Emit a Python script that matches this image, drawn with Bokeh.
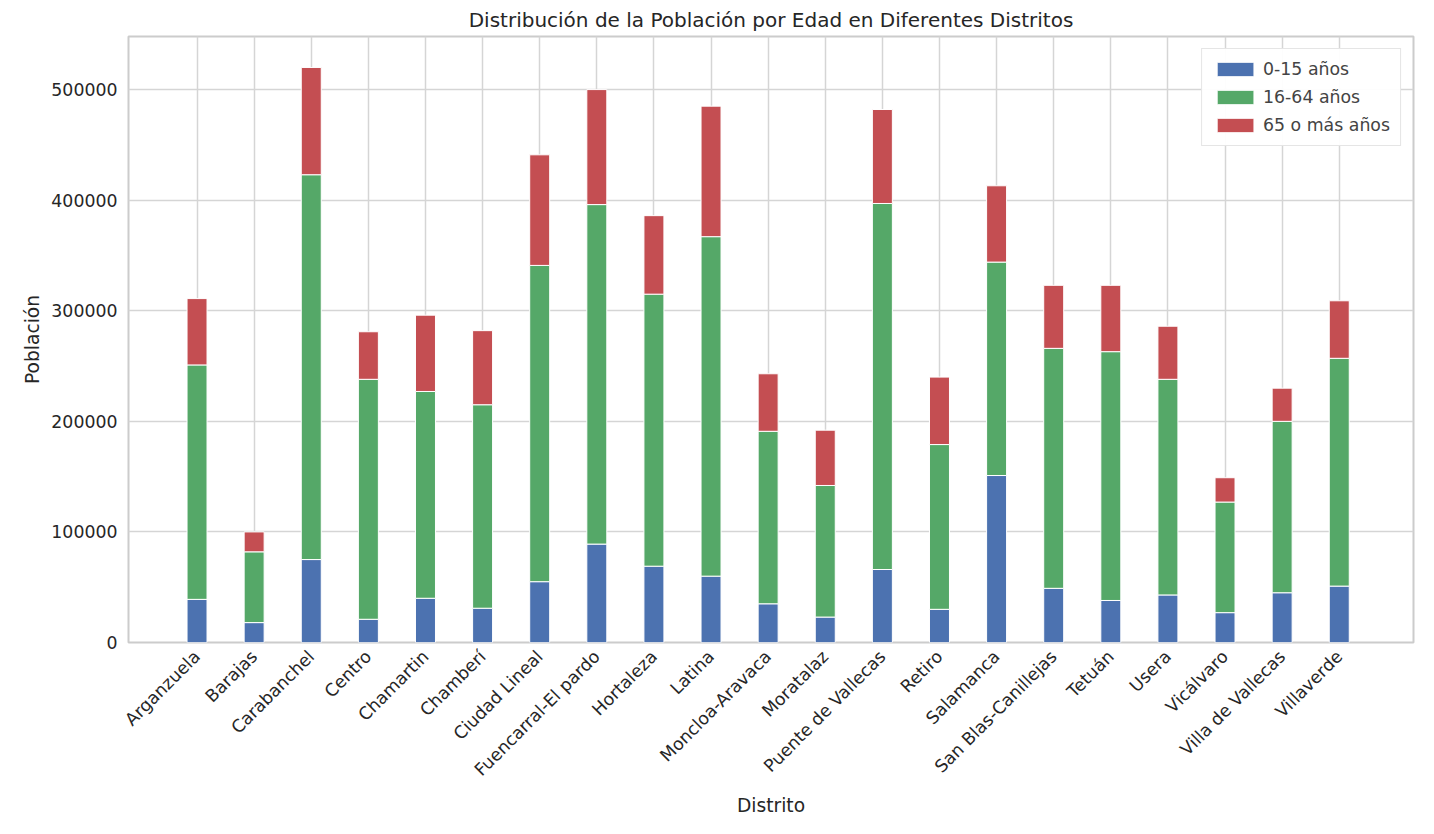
from bokeh.plotting import figure
from bokeh.models import ColumnDataSource, Legend, LegendItem, FixedTicker
from bokeh.embed import file_html
from bokeh.resources import INLINE
import math

distritos = ["Arganzuela", "Barajas", "Carabanchel", "Centro", "Chamartin", "Chamberí",
             "Ciudad Lineal", "Fuencarral-El pardo", "Hortaleza", "Latina", "Moncloa-Aravaca",
             "Moratalaz", "Puente de Vallecas", "Retiro", "Salamanca", "San Blas-Canillejas",
             "Tetuán", "Usera", "Vicálvaro", "Villa de Vallecas", "Villaverde"]
ninos = [39000, 18000, 75000, 21000, 40000, 31000, 55000, 89000, 69000, 60000, 35000,
         23000, 66000, 30000, 151000, 49000, 38000, 43000, 27000, 45000, 51000]
adultos = [212000, 64000, 348000, 217000, 187000, 184000, 286000, 307000, 246000, 307000, 156000,
           119000, 331000, 149000, 193000, 217000, 225000, 195000, 100000, 155000, 206000]
mayores = [60000, 18000, 97000, 43000, 69000, 67000, 100000, 104000, 71000, 118000, 52000,
           50000, 85000, 61000, 69000, 57000, 60000, 48000, 22000, 30000, 52000]

x = list(range(len(distritos)))
src = ColumnDataSource(dict(x=x, a=ninos, b=adultos, c=mayores))

p = figure(width=1418, height=818, output_backend="svg", toolbar_location=None,
           x_range=(-1.2, 21.3), y_range=(0, 548000), min_border_left=128,
           title="Distribución de la Población por Edad en Diferentes Distritos")
font = "DejaVu Sans"
p.title.align = "center"
p.title.text_font = font
p.title.text_font_size = "15pt"
p.title.text_font_style = "normal"
p.title.text_color = "#262626"

colores = ["#4C72B0", "#55A868", "#C44E52"]
r = p.vbar_stack(["a", "b", "c"], x="x", width=0.35, color=colores,
                 line_color="white", line_width=1, source=src)

p.xaxis.ticker = FixedTicker(ticks=x)
p.xaxis.major_label_overrides = {i: d for i, d in enumerate(distritos)}
p.xaxis.major_label_orientation = math.pi / 4
p.yaxis.ticker = FixedTicker(ticks=[0, 100000, 200000, 300000, 400000, 500000])
p.yaxis.formatter.use_scientific = False
for ax in (p.xaxis, p.yaxis):
    ax.major_label_text_font = font
    ax.major_label_text_font_size = "13pt"
    ax.major_label_text_color = "#262626"
    ax.axis_label_text_font = font
    ax.axis_label_text_font_size = "14pt"
    ax.axis_label_text_font_style = "normal"
    ax.axis_label_text_color = "#262626"
    ax.axis_line_color = None
    ax.major_tick_line_color = None
    ax.minor_tick_line_color = None
p.xaxis.axis_label = "Distrito"
p.yaxis.axis_label = "Población"

p.xgrid.grid_line_color = "#d5d5d5"
p.ygrid.grid_line_color = "#d5d5d5"
p.xgrid.grid_line_width = 1.5
p.ygrid.grid_line_width = 1.5
p.outline_line_color = "#cccccc"
p.outline_line_width = 2
p.outline_line_alpha = 1
p.background_fill_color = "white"

legend = Legend(items=[LegendItem(label="0-15 años", renderers=[r[0]]),
                       LegendItem(label="16-64 años", renderers=[r[1]]),
                       LegendItem(label="65 o más años", renderers=[r[2]])],
                location="top_right", label_text_font=font, label_text_font_size="13pt",
                border_line_color="#cccccc", glyph_width=46, glyph_height=18,
                margin=12, padding=10, spacing=8)
p.add_layout(legend)

open("out.html", "w").write(file_html(p, INLINE))
